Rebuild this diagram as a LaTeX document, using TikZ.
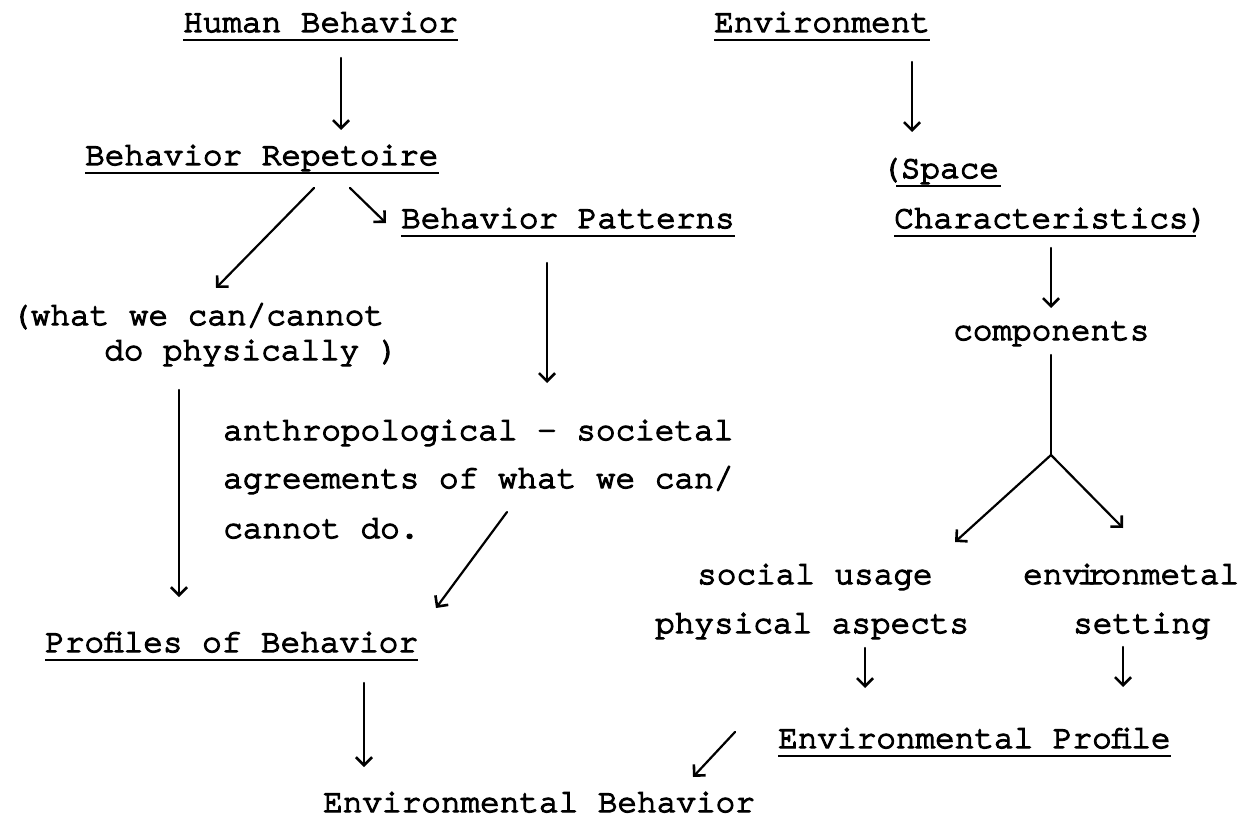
\documentclass[tikz,border=0pt]{standalone}
\usepackage{fontspec}
\newfontfamily\tw{texgyrecursor-regular.otf}[FakeBold=4]
\usetikzlibrary{arrows.meta}
\begin{document}
\begin{tikzpicture}[x=1pt,y=-1pt,
  txt/.style={anchor=base west, inner sep=0pt, font=\tw\fontsize{32.7}{38}\selectfont},
  con/.style={line width=2.2pt, line cap=round, -{Straight Barb[length=8pt,width=16pt,line width=2.6pt]}},
  ln/.style={line width=2.2pt, line cap=round},
  ul/.style={line width=2.8pt}]
\path[use as bounding box, fill=white] (0,0) rectangle (1250,818);

% texts
\node[txt] (hb)   at (183,32)  {Human Behavior};
\node[txt] (env)  at (714,32)  {Environment};
\node[txt] (br)   at (85,165)  {Behavior Repetoire};
\node[txt] (sp)   at (881,178) {(Space};
\node[txt] (bp)   at (401,228) {Behavior Patterns};
\node[txt] (ch)   at (894,228) {Characteristics)};
\node[txt] (w1)   at (11,325)  {(what we can/cannot};
\node[txt] (w2)   at (104,360) {do physically )};
\node[txt] (comp) at (953,340) {components};
\node[txt] (a1)   at (223,440) {anthropological - societal};
\node[txt] (a2)   at (223,488) {agreements of what we can/};
\node[txt] (a3)   at (223,538) {cannot do.};
\node[txt] (su)   at (697,584) {social usage};
\node[txt] (em)   at (1023,584) {env\makebox[0.3em][c]{i}\makebox[0.3em][c]{r}onmetal};
\node[txt] (pa)   at (655,633) {physical aspects};
\node[txt] (st)   at (1073,633) {setting};
\node[txt] (pob)  at (45,652)  {Profiles of Behavior};
\node[txt] (ep)   at (778,748) {Environmental Profile};
\node[txt] (eb)   at (323,812) {Environmental Behavior};

% underlines
\foreach \n in {hb,env,br,bp,pob,ep}
  \draw[ul] ([shift={(0,8)}]\n.base west) -- ([shift={(0,8)}]\n.base east);
\draw[ul] ([shift={(15,8)}]sp.base west) -- ([shift={(2,8)}]sp.base east);
\draw[ul] ([shift={(0,8)}]ch.base west) -- ([shift={(-12,8)}]ch.base east);

% connectors (offsets from the left end of each text's baseline)
\draw[con] ([shift={(158,26)}]hb.base west) -- ([shift={(256,-35)}]br.base west);
\draw[con] ([shift={(198,30)}]env.base west) -- ([shift={(31,-46)}]sp.base west);
\draw[con] ([shift={(229,23)}]br.base west) -- ([shift={(205,-37)}]w1.base west);
\draw[con] ([shift={(265,23)}]br.base west) -- ([shift={(-15,-5)}]bp.base west);
\draw[con] ([shift={(146,35)}]bp.base west) -- ([shift={(324,-57)}]a1.base west);
\draw[con] ([shift={(157,20)}]ch.base west) -- ([shift={(98,-32)}]comp.base west);
\coordinate (fork) at ([shift={(98,115)}]comp.base west);
\draw[ln] ([shift={(98,15)}]comp.base west) -- (fork);
\draw[con] (fork) -- ([shift={(258,-42)}]su.base west);
\draw[con] (fork) -- ([shift={(100,-56)}]em.base west);
\draw[con] ([shift={(75,30)}]w2.base west) -- ([shift={(134,-55)}]pob.base west);
\draw[con] ([shift={(284,24)}]a2.base west) -- ([shift={(391,-44)}]pob.base west);
\draw[con] ([shift={(319,31)}]pob.base west) -- ([shift={(41,-45)}]eb.base west);
\draw[con] ([shift={(210,15)}]pa.base west) -- ([shift={(87,-60)}]ep.base west);
\draw[con] ([shift={(50,14)}]st.base west) -- ([shift={(345,-61)}]ep.base west);
\draw[con] ([shift={(-43,-16)}]ep.base west) -- ([shift={(370,-35)}]eb.base west);
\end{tikzpicture}
\end{document}
